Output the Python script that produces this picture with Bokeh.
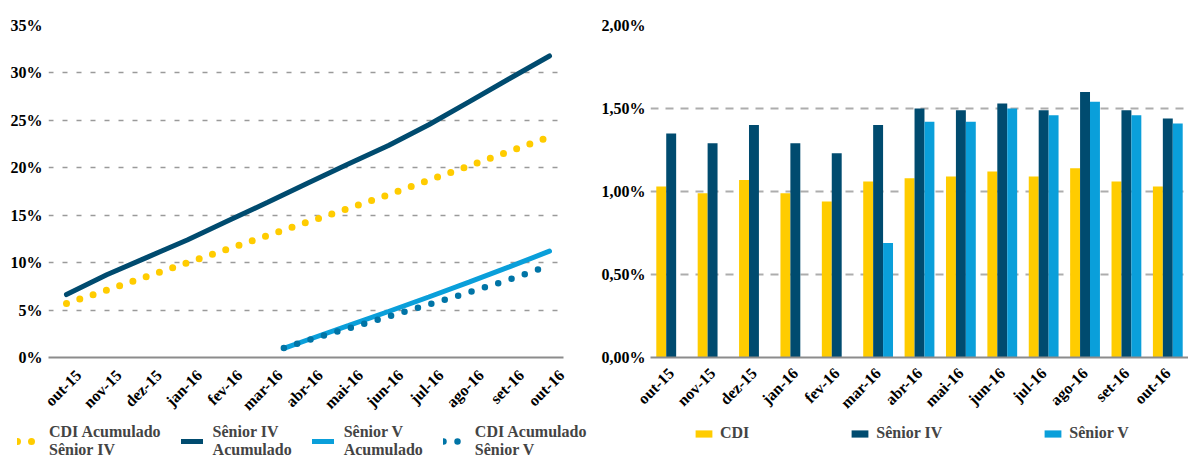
import math
from bokeh.plotting import figure
from bokeh.models import (Range1d, FixedTicker, Legend, LegendItem, ColumnDataSource, FactorRange)
from bokeh.transform import dodge
from bokeh.layouts import row, column
from bokeh.embed import file_html
from bokeh.resources import INLINE

# ---------------- data ----------------
months = ["out-15", "nov-15", "dez-15", "jan-16", "fev-16", "mar-16", "abr-16",
          "mai-16", "jun-16", "jul-16", "ago-16", "set-16", "out-16"]
month_pos = list(range(len(months)))
label_shift = 0.3  # date-axis labels sit slightly to the right of the data points

# left chart: accumulated returns (%)
senior4_acc = [6.63, 8.73, 10.56, 12.39, 14.38, 16.36, 18.40, 20.40, 22.35, 24.54, 26.95, 29.39, 31.79]
cdi4_acc = [5.70, 7.10, 8.54, 9.98, 11.41, 12.85, 14.29, 15.71, 17.16, 18.69, 20.20, 21.72, 23.24]
senior5_pos = [5.4, 6, 7, 8, 9, 10, 11, 12]
senior5_acc = [0.96, 1.87, 3.35, 4.85, 6.38, 7.95, 9.55, 11.21]
cdi5_acc = [1.00, 1.83, 3.06, 4.32, 5.58, 6.86, 8.21, 9.70]
left_ticks = [0, 5, 10, 15, 20, 25, 30, 35]
left_tick_labels = ["0%", "5%", "10%", "15%", "20%", "25%", "30%", "35%"]

# right chart: monthly returns (%)
cdi_m = [1.03, 0.99, 1.07, 0.99, 0.94, 1.06, 1.08, 1.09, 1.12, 1.09, 1.14, 1.06, 1.03]
senior4_m = [1.35, 1.29, 1.40, 1.29, 1.23, 1.40, 1.50, 1.49, 1.53, 1.49, 1.60, 1.49, 1.44]
senior5_months = months[5:]
senior5_m = [0.69, 1.42, 1.42, 1.50, 1.46, 1.54, 1.46, 1.41]
right_ticks = [0, 0.5, 1.0, 1.5, 2.0]
right_tick_labels = ["0,00%", "0,50%", "1,00%", "1,50%", "2,00%"]

# legend texts
left_labels = ["CDI Acumulado\nSênior IV", "Sênior IV\nAcumulado",
               "Sênior V\nAcumulado", "CDI Acumulado\nSênior V"]
right_labels = ["CDI", "Sênior IV", "Sênior V"]

# ---------------- style ----------------
YELLOW = "#FFCC00"
NAVY = "#004B6F"
LIGHT = "#0A9FDA"
TEAL = "#0074A6"
FONT = "Liberation Serif"
MAIN_H = 422
LEG_H = 459 - MAIN_H
NAN = float("nan")


def style_axes(p, grid_dash, grid_width, grid_color):
    for ax in (p.xaxis[0], p.yaxis[0]):
        ax.major_label_text_font = FONT
        ax.major_label_text_font_style = "bold"
        ax.major_label_text_font_size = "16px"
        ax.major_label_text_color = "black"
        ax.major_tick_line_color = None
        ax.minor_tick_line_color = None
        ax.major_tick_out = 0
        ax.major_tick_in = 0
    p.yaxis[0].axis_line_color = None
    p.xaxis[0].axis_line_color = "#8C8C8C"
    p.xaxis[0].axis_line_width = 2
    p.xaxis[0].major_label_orientation = math.pi / 4
    p.xgrid.grid_line_color = None
    p.ygrid.grid_line_color = grid_color
    p.ygrid.grid_line_dash = grid_dash
    p.ygrid.grid_line_width = grid_width
    p.outline_line_color = None


def style_legend(leg):
    leg.label_text_font = FONT
    leg.label_text_font_style = "bold"
    leg.label_text_font_size = "16px"
    leg.padding = 0
    leg.margin = 0
    leg.border_line_color = None
    leg.background_fill_alpha = 0


# ---------------- left chart ----------------
left = figure(width=585, height=MAIN_H, output_backend="svg", toolbar_location=None,
              x_range=Range1d(-0.447, 12.348), y_range=Range1d(0, 35),
              min_border_left=48, min_border_right=22, min_border_top=23,
              min_border_bottom=MAIN_H - 361)
style_axes(left, "5 9", 1.3, "#9A9A9A")
left.yaxis[0].ticker = FixedTicker(ticks=left_ticks)
left.yaxis[0].major_label_overrides = {t: l for t, l in zip(left_ticks, left_tick_labels)}
left.yaxis[0].major_label_standoff = 6
tick_pos = [p + label_shift for p in month_pos]
left.xaxis[0].ticker = FixedTicker(ticks=tick_pos)
left.xaxis[0].major_label_overrides = {t: l for t, l in zip(tick_pos, months)}
left.xaxis[0].major_label_standoff = 15

line_styles = [
    dict(line_color=YELLOW, line_width=7, line_dash="0 14", line_cap="round"),
    dict(line_color=NAVY, line_width=5, line_cap="round"),
    dict(line_color=LIGHT, line_width=5, line_cap="round"),
    dict(line_color=TEAL, line_width=6.5, line_dash="0 14", line_cap="round"),
]
left.line(month_pos, cdi4_acc, **line_styles[0])
left.line(month_pos, senior4_acc, **line_styles[1])
left.line(senior5_pos, senior5_acc, **line_styles[2])
left.line(senior5_pos, cdi5_acc, **line_styles[3])

# ---------------- right chart ----------------
right = figure(width=603, height=MAIN_H, output_backend="svg", toolbar_location=None,
               x_range=FactorRange(*months), y_range=Range1d(0, 2.0),
               min_border_left=65, min_border_right=0, min_border_top=25,
               min_border_bottom=MAIN_H - 361)
style_axes(right, "8 7", 2, "#ADADAD")
right.yaxis[0].ticker = FixedTicker(ticks=right_ticks)
right.yaxis[0].major_label_overrides = {t: l for t, l in zip(right_ticks, right_tick_labels)}
right.yaxis[0].major_label_standoff = 5
right.xaxis[0].major_label_standoff = 13
right.x_range.range_padding = 0

src = ColumnDataSource(dict(m=months, cdi=cdi_m, s4=senior4_m))
src5 = ColumnDataSource(dict(m=senior5_months, s5=senior5_m))
bw = 0.24
bar_colors = [YELLOW, NAVY, LIGHT]
right.vbar(x=dodge("m", -bw, range=right.x_range), top="cdi", width=bw, source=src,
           fill_color=YELLOW, line_color=None)
right.vbar(x=dodge("m", 0, range=right.x_range), top="s4", width=bw, source=src,
           fill_color=NAVY, line_color=None)
right.vbar(x=dodge("m", bw, range=right.x_range), top="s5", width=bw, source=src5,
           fill_color=LIGHT, line_color=None)

# ---------------- legends (strip below both charts) ----------------
leg_fig = figure(width=1188, height=LEG_H, output_backend="svg", toolbar_location=None,
                 x_range=Range1d(0, 1), y_range=Range1d(0, 1),
                 x_axis_location=None, y_axis_location=None,
                 min_border_left=0, min_border_right=0, min_border_top=0, min_border_bottom=0)
leg_fig.xgrid.grid_line_color = None
leg_fig.ygrid.grid_line_color = None
leg_fig.outline_line_color = None

items = []
for lab, st in zip(left_labels, line_styles):
    r = leg_fig.line([NAN], [NAN], **st)
    items.append(LegendItem(label=lab, renderers=[r]))
leg_l = Legend(items=items, orientation="horizontal", location=(17, 0))
style_legend(leg_l)
leg_l.label_text_line_height = 1.15
leg_l.glyph_width = 22
leg_l.glyph_height = 36
leg_l.label_standoff = 10
leg_l.spacing = 20
leg_fig.add_layout(leg_l, "center")

ritems = []
for lab, c in zip(right_labels, bar_colors):
    r = leg_fig.vbar(x=[NAN], top=[NAN], width=0.1, fill_color=c, line_color=None)
    ritems.append(LegendItem(label=lab, renderers=[r]))
leg_r = Legend(items=ritems, orientation="horizontal", location=(693, 17))
style_legend(leg_r)
leg_r.glyph_width = 21
leg_r.glyph_height = 9
leg_r.label_standoff = 6
leg_r.spacing = 100
leg_fig.add_layout(leg_r, "center")

layout = column(row(left, right, spacing=0), leg_fig, spacing=0)
open("out.html", "w").write(file_html(layout, INLINE))
